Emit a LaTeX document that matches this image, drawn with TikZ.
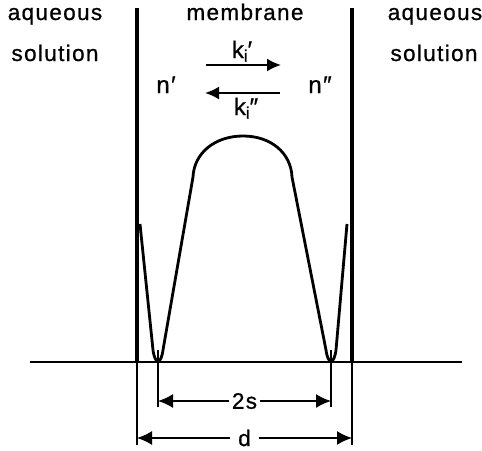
\documentclass[tikz,border=0pt]{standalone}
\usepackage{fontspec}
\setmainfont{Liberation Sans}
\newfontfamily\lblfont{Liberation Sans}[FakeBold=0.8,LetterSpace=6]
\usetikzlibrary{positioning,calc,arrows.meta}
\newcommand{\kidx}[1]{k\textsubscript{i}\kern-0.5pt#1}

\begin{document}
\begin{tikzpicture}[
    x=1pt, y=-1pt,
    >={Latex[length=15pt,width=14pt]},
    lbl/.style={font=\lblfont\fontsize{22.5}{27}\selectfont, inner sep=0pt, anchor=base},
    var/.style={lbl, font=\lblfont\fontsize{24}{27}\selectfont},
    wall/.style={line width=3.2pt},
    prof/.style={line width=2.8pt, line join=round},
    base/.style={line width=2.4pt},
    dim/.style={line width=1.6pt},
    dimtxt/.style={font=\lblfont\fontsize{22.5}{27}\selectfont, fill=white, inner xsep=3pt, inner ysep=1pt},
    arr/.style={->, line width=2pt, >={Latex[length=14pt,width=13pt]}},
  ]
    \useasboundingbox (0,0) rectangle (482,450);
    \node[lbl] (aqL) at (55,20)  {aqueous};
    \node[lbl] (soL) at (55,61)  {solution};
    \node[lbl] (mem) at (245,20) {membrane};
    \node[lbl] (aqR) at (435,20) {aqueous};
    \node[lbl] (soR) at (434,61) {solution};
    \node[var] (nL) at (166,93) {n′};
    \node[var] (nR) at (320,93) {n″};
    \node[var] (kf) at (242,58)  {\kidx{′}};
    \node[var] (kb) at (246,115) {\kidx{″}};
    % membrane walls and base line
    \coordinate (wLt) at (137,8);   \coordinate (wLb) at (137,362);
    \coordinate (wRt) at (352,8);   \coordinate (wRb) at (352,362);
    \draw[wall] (wLt) -- (wLb);
    \draw[wall] (wRt) -- (wRb);
    \draw[base] (30,362) -- (462,362);
    % concentration profile
    \draw[prof] (140,224) -- (153,350) .. controls (155,365) and (161,365) .. (163,350)
      -- (193,177) .. controls (194,153) and (215,136) .. (243,136)
      .. controls (271,136) and (291,153) .. (292,177)
      -- (326,350) .. controls (328,365) and (334,365) .. (336,350) -- (347,224);
    % rate arrows
    \coordinate (f1) at (206,65);  \coordinate (f2) at (281,65);
    \coordinate (b1) at (280,93);  \coordinate (b2) at (205,93);
    \draw[arr] (f1) -- (f2);
    \draw[arr] (b1) -- (b2);
    % dimensions
    \coordinate (s1) at (158,401); \coordinate (s2) at (331,401);
    \coordinate (d1) at (137,438); \coordinate (d2) at (352,438);
    \draw[dim] (158,350) -- (158,407);
    \draw[dim] (331,350) -- (331,407);
    \draw[dim] (wLb) -- (137,445);
    \draw[dim] (wRb) -- (352,445);
    \draw[dim,<->] (s1) -- node[dimtxt] (tws) {2s} (s2);
    \draw[dim,<->] (d1) -- node[dimtxt, inner xsep=8pt] (tdd) {d} (d2);
\end{tikzpicture}
\end{document}
